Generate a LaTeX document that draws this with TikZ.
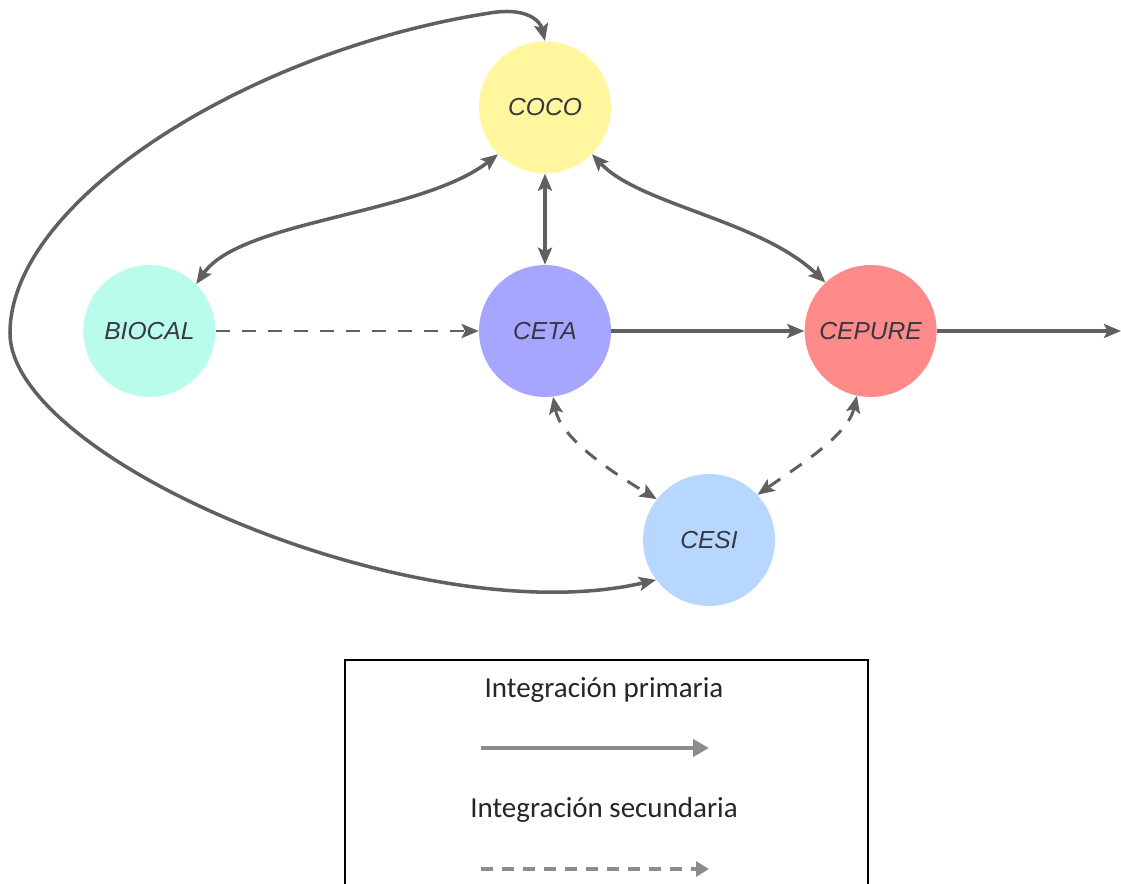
\documentclass[tikz,border=0pt]{standalone}
\usepackage{fontspec}
\setmainfont{Liberation Sans}
\newfontfamily\leyendafont{Carlito}
\usetikzlibrary{arrows.meta, positioning}
\definecolor{trazo}{RGB}{96,96,96}
\definecolor{gris}{RGB}{140,140,140}
\definecolor{texto}{RGB}{55,55,65}
\definecolor{amarillo}{RGB}{255,246,158}
\definecolor{turquesa}{RGB}{185,252,235}
\definecolor{lila}{RGB}{166,166,255}
\definecolor{salmon}{RGB}{255,138,138}
\definecolor{celeste}{RGB}{183,215,255}
\tikzset{
  centro/.style={circle, minimum size=2.64cm, inner sep=0pt,
    font=\fontsize{14}{16}\selectfont\itshape, text=texto},
  primaria/.style={->, line width=2pt, color=trazo},
  secundaria/.style={->, line width=1.7pt, color=trazo,
    dash pattern=on 2.8mm off 2.4mm},
  leytexto/.style={font=\leyendafont\fontsize{16.5}{19}\selectfont, text=black!85},
  leyprim/.style={-{Triangle[length=3.2mm, width=3.4mm]}, line width=2.8pt, color=gris},
  leysec/.style={-{Triangle[length=2.6mm, width=3mm]}, line width=2.2pt, color=gris,
    dash pattern=on 2.4mm off 1.8mm}
}

\begin{document}
\begin{tikzpicture}[x=0.02cm, y=-0.02cm,
    >={Stealth[length=3.4mm, width=2.8mm, inset=0.7mm]}]
  \useasboundingbox (0,0) rectangle (1121,884);
  % centros
  \node[centro, fill=lila] (ceta) at (545,331) {CETA};
  \node[centro, fill=turquesa, left=5.26cm of ceta] (biocal) {BIOCAL};
  \node[centro, fill=salmon, right=3.86cm of ceta] (cepure) {CEPURE};
  \node[centro, fill=amarillo, above=1.82cm of ceta] (coco) {COCO};
  \node[centro, fill=celeste] (cesi) at (709,540) {CESI};
  \coordinate (salida) at (1121,331);
  % integracion primaria
  \draw[primaria, <->] (coco) -- (ceta);
  \draw[primaria] (ceta) -- (cepure);
  \draw[primaria] (cepure) -- (salida);
  \draw[primaria, <->] (biocal.45) .. controls (240,220) and (420,215) .. (coco.225);
  \draw[primaria, <->] (coco.-45) .. controls (640,205) and (760,220) .. (cepure.133);
  \draw[primaria, <->] (cesi.217) .. controls (420,635) and (10,460) .. (10,333)
    .. controls (10,200) and (250,50) .. (490,13)
    .. controls (525,7) and (540,20) .. (coco.north);
  % integracion secundaria
  \draw[secundaria] (biocal) -- (ceta);
  \draw[secundaria, <->] (ceta.-83) .. controls (560,435) and (600,465) .. (cesi.142);
  \draw[secundaria, <->] (cepure.-102) .. controls (848,435) and (800,465) .. (cesi.43);
  % leyenda
  \draw[line width=0.8pt] (345,884) -- (345,660) -- (868,660) -- (868,884);
  \node[leytexto] (tprim) at (604,690) {Integración primaria};
  \node[leytexto] (tsec) at (604,810) {Integración secundaria};
  \coordinate (lp1) at (481,748);
  \coordinate (lp2) at (709,748);
  \coordinate (ls1) at (481,869);
  \coordinate (ls2) at (709,869);
  \draw[leyprim] (lp1) -- (lp2);
  \draw[leysec] (ls1) -- (ls2);
\end{tikzpicture}
\end{document}
